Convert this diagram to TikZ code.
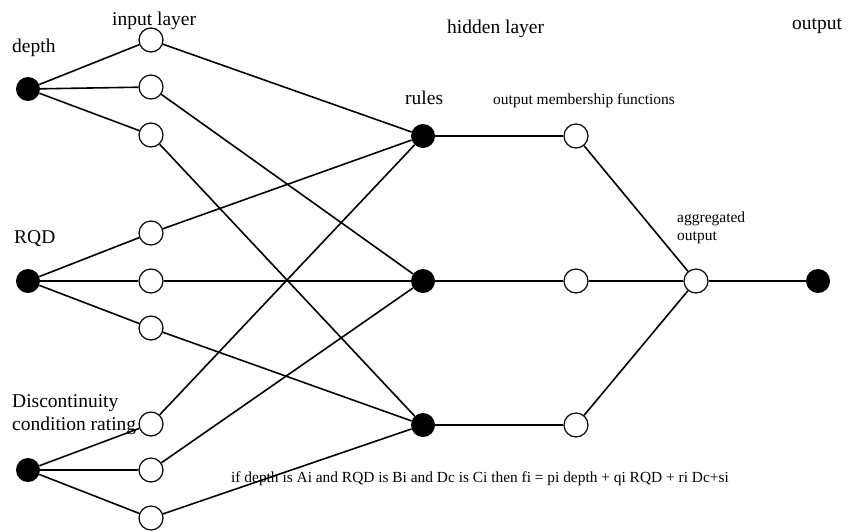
\documentclass[tikz,border=0pt]{standalone}
\usepackage{fontspec}
\setmainfont{Liberation Serif}
\begin{document}
\begin{tikzpicture}[x=1pt,y=-1pt,
 open/.style={circle,draw,line width=1.2pt,fill=white,minimum size=24pt,inner sep=0pt},
 full/.style={circle,fill=black,minimum size=24pt,inner sep=0pt},
 conn/.style={line width=1.6pt},
 big/.style={font=\fontsize{19.5}{22}\selectfont,inner sep=0pt,anchor=base west},
 small/.style={font=\fontsize{15.5}{18}\selectfont,inner sep=0pt,anchor=base west}]
\useasboundingbox (0,0) rectangle (858,531);
% input variables
\node[full] (D) at (28,89) {};
\node[full] (R) at (28,281) {};
\node[full] (C) at (28,470) {};
% input layer
\node[open] (d1) at (151,40) {};
\node[open] (d2) at (151,87) {};
\node[open] (d3) at (151,135) {};
\node[open] (r1) at (151,233) {};
\node[open] (r2) at (151,281) {};
\node[open] (r3) at (151,328) {};
\node[open] (c1) at (151,424) {};
\node[open] (c2) at (151,470) {};
\node[open] (c3) at (151,518) {};
% rules
\node[full] (h1) at (423,136) {};
\node[full] (h2) at (423,281) {};
\node[full] (h3) at (423,425) {};
% output membership functions
\node[open] (m1) at (576,136) {};
\node[open] (m2) at (576,281) {};
\node[open] (m3) at (576,425) {};
% aggregated and output
\node[open] (ag) at (696,281) {};
\node[full] (out) at (818,281) {};
% connectors
\foreach \a/\b in {D/d1,D/d2,D/d3,R/r1,R/r2,R/r3,C/c1,C/c2,C/c3,
  d1/h1,d2/h2,d3/h3,r1/h1,r2/h2,r3/h3,c1/h1,c2/h2,c3/h3,
  h1/m1,h2/m2,h3/m3,m1/ag,m2/ag,m3/ag,ag/out}
  \draw[conn] (\a) -- (\b);
% labels
\node[big] (t1) at (112,25) {input layer};
\node[big] (t2) at (12,52) {depth};
\node[big] (t3) at (447,33) {hidden layer};
\node[big] (t4) at (792,29) {output};
\node[big] (t5) at (405,104) {rules};
\node[small] (t6) at (493,104) {output membership functions};
\node[small] (t7) at (677,222) {aggregated};
\node[small] (t8) at (677,240) {output};
\node[big] (t9) at (14,243) {RQD};
\node[big] (t10) at (12,407) {Discontinuity};
\node[big] (t11) at (12,430) {condition rating};
\node[small,font=\fontsize{15.4}{18}\selectfont] (t12) at (231,482) {if depth is Ai and RQD is Bi and Dc is Ci then fi = pi depth + qi RQD + ri Dc+si};
\end{tikzpicture}
\end{document}
